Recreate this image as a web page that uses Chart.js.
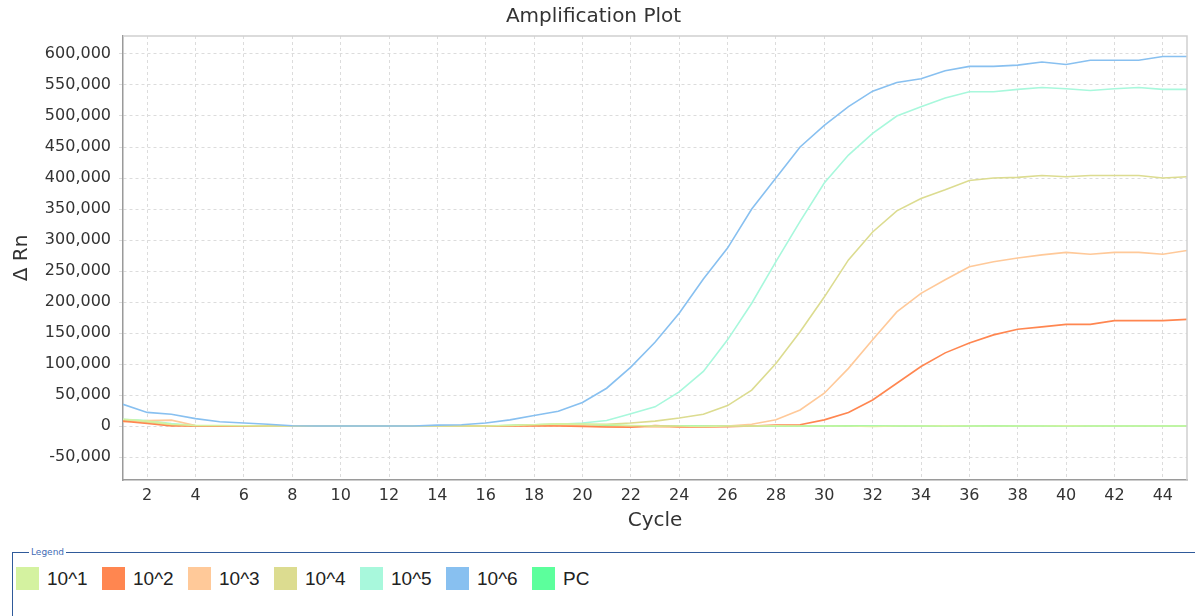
<!DOCTYPE html>
<html>
<head>
<meta charset="utf-8">
<script src="https://cdn.jsdelivr.net/npm/chart.js@4"></script>
<style>
  body { margin: 0; background: #fff; width: 1195px; height: 616px; overflow: hidden; position: relative; }
  #plot { position: absolute; left: 0; top: 0; }
  .legend-box {
    position: absolute; left: 12px; top: 547px; width: 1190px; height: 90px;
    margin: 0; padding: 0 0 0 3px; border: 1px solid #2f5a9a; box-sizing: border-box;
  }
  .legend-box legend {
    font: 9px "DejaVu Sans", sans-serif; color: #3f6bb5; padding: 0 2px; margin-left: 13px;
  }
  .legend-items { display: flex; margin-top: 10px; }
  .legend-item { display: flex; align-items: center; width: 86px; font: 19px "Liberation Sans", Arial, sans-serif; color: #222; }
  .legend-item span.sw { width: 23px; height: 23px; margin-right: 8px; }
</style>
</head>
<body>
<canvas id="plot" width="1195" height="545"></canvas>
<fieldset class="legend-box">
  <legend>Legend</legend>
  <div class="legend-items" id="legendItems"></div>
</fieldset>
<script>
const cycles = [1,2,3,4,5,6,7,8,9,10,11,12,13,14,15,16,17,18,19,20,21,22,23,24,25,26,27,28,29,30,31,32,33,34,35,36,37,38,39,40,41,42,43,44,45];
const xTicks = [2,4,6,8,10,12,14,16,18,20,22,24,26,28,30,32,34,36,38,40,42,44];
const yTicks = [-50000,0,50000,100000,150000,200000,250000,300000,350000,400000,450000,500000,550000,600000];

const seriesNames = ['10^1', '10^2', '10^3', '10^4', '10^5', '10^6', 'PC'];
const seriesColors = ['#d4f2a0', '#ff8650', '#ffc999', '#dcdc90', '#a8f8dc', '#88c0f0', '#5cff9c'];

const s10e1 = [11000,8000,3000,1000,1000,500,0,0,0,0,0,0,0,0,0,0,1000,2000,3500,3000,2000,1000,0,0,-500,0,0,500,0,0,0,-500,0,0,500,0,0,0,0,500,0,0,0,0,0];
const s10e2 = [8000,4000,0,0,0,0,0,0,0,0,0,0,0,0,0,0,0,500,0,-500,-1500,-2000,1000,-1000,-1500,-1000,0,1500,2000,10000,22000,42000,69000,96000,118000,134000,147000,156000,160000,164000,164000,170000,170000,170000,172000];
const s10e3 = [7000,9000,9500,1000,0,0,0,0,0,0,0,0,0,0,0,0,500,1000,1000,0,-1000,-1500,-1500,-2000,-1000,0,3000,10000,26000,53000,93000,139000,184000,214000,236000,257000,265000,271000,276000,280000,277000,280000,280000,277000,283000];
const s10e4 = [9000,6000,2000,0,0,0,0,0,0,0,0,0,0,0,0,0,1000,2000,3000,3000,3000,5000,8000,13000,19000,33000,58000,101000,152000,208000,268000,313000,347000,367000,381000,396000,400000,401000,404000,402000,404000,404000,404000,400000,402000];
const s10e5 = [11000,9000,4000,1000,500,300,0,0,0,0,0,0,0,500,500,500,1000,2000,3000,5000,9000,20000,31000,55000,88000,139000,198000,265000,330000,392000,437000,472000,500000,515000,529000,539000,539000,543000,546000,544000,541000,544000,546000,543000,543000];
const s10e6 = [35000,22000,19000,12000,7000,5000,3000,500,0,0,0,0,0,1500,2000,5000,10000,17000,24000,38000,61000,95000,135000,182000,237000,287000,350000,400000,450000,485000,515000,540000,554000,560000,573000,580000,580000,582000,587000,583000,590000,590000,590000,596000,596000];
const sPC   = [10000,8000,2000,500,0,0,0,0,0,0,0,0,0,0,0,0,1000,2000,2500,2500,1500,500,0,0,0,500,0,0,0,0,500,0,0,0,0,0,500,0,0,0,0,0,0,0,0];

const seriesValues = [s10e1, s10e2, s10e3, s10e4, s10e5, s10e6, sPC];

const datasets = seriesNames.map((name, i) => ({
  label: name,
  data: seriesValues[i].map((v, j) => ({ x: cycles[j], y: v })),
  borderColor: seriesColors[i],
  backgroundColor: seriesColors[i],
  borderWidth: 1.6,
  pointRadius: 0,
  tension: 0,
  order: i === 5 ? 0 : 1
}));

const frame = {
  id: 'frame',
  afterDraw(chart) {
    const { ctx, chartArea: a } = chart;
    ctx.save();
    ctx.strokeStyle = '#cfcfcf';
    ctx.lineWidth = 1.5;
    ctx.beginPath();
    ctx.moveTo(a.left, a.top);
    ctx.lineTo(a.right, a.top);
    ctx.lineTo(a.right, a.bottom);
    ctx.stroke();
    ctx.restore();
  }
};

new Chart(document.getElementById('plot').getContext('2d'), {
  type: 'line',
  data: { datasets },
  plugins: [frame],
  options: {
    responsive: false,
    animation: false,
    layout: { padding: { left: 0, right: 8, top: 0, bottom: 0 } },
    plugins: {
      legend: { display: false },
      tooltip: { enabled: false },
      title: {
        display: true,
        text: 'Amplification Plot',
        color: '#333',
        font: { family: 'DejaVu Sans', size: 20, weight: 'normal' },
        padding: { top: 5, bottom: 7 }
      }
    },
    scales: {
      x: {
        type: 'linear',
        min: 1,
        max: 45,
        afterBuildTicks: s => { s.ticks = xTicks.map(v => ({ value: v })); },
        afterFit: s => { s.height = 65; },
        ticks: { color: '#333', padding: 6, font: { family: 'DejaVu Sans', size: 16 }, maxRotation: 0, autoSkip: false },
        grid: { color: '#dcdcdc', tickLength: 4, drawTicks: false },
        border: { color: '#9a9a9a', width: 1.5, dash: [3, 3] },
        title: { display: true, text: 'Cycle', color: '#333', font: { family: 'DejaVu Sans', size: 20 }, padding: { top: 0, bottom: 12 } }
      },
      y: {
        min: -87000,
        max: 629000,
        afterBuildTicks: s => { s.ticks = yTicks.map(v => ({ value: v })); },
        afterFit: s => { s.width = 123; },
        ticks: {
          autoSkip: false,
          color: '#333',
          padding: 8,
          font: { family: 'DejaVu Sans', size: 16 },
          callback: v => v.toLocaleString('en-US')
        },
        grid: { color: '#dcdcdc', tickLength: 4 },
        border: { color: '#9a9a9a', width: 1.5, dash: [3, 3] },
        title: { display: true, text: 'Δ Rn', color: '#333', font: { family: 'DejaVu Sans', size: 20 }, padding: { top: 10, bottom: 0 } }
      }
    }
  }
});

const legendItems = document.getElementById('legendItems');
seriesNames.forEach((name, i) => {
  const item = document.createElement('div');
  item.className = 'legend-item';
  item.innerHTML = `<span class="sw" style="background:${seriesColors[i]}"></span>${name}`;
  legendItems.appendChild(item);
});
</script>
</body>
</html>
